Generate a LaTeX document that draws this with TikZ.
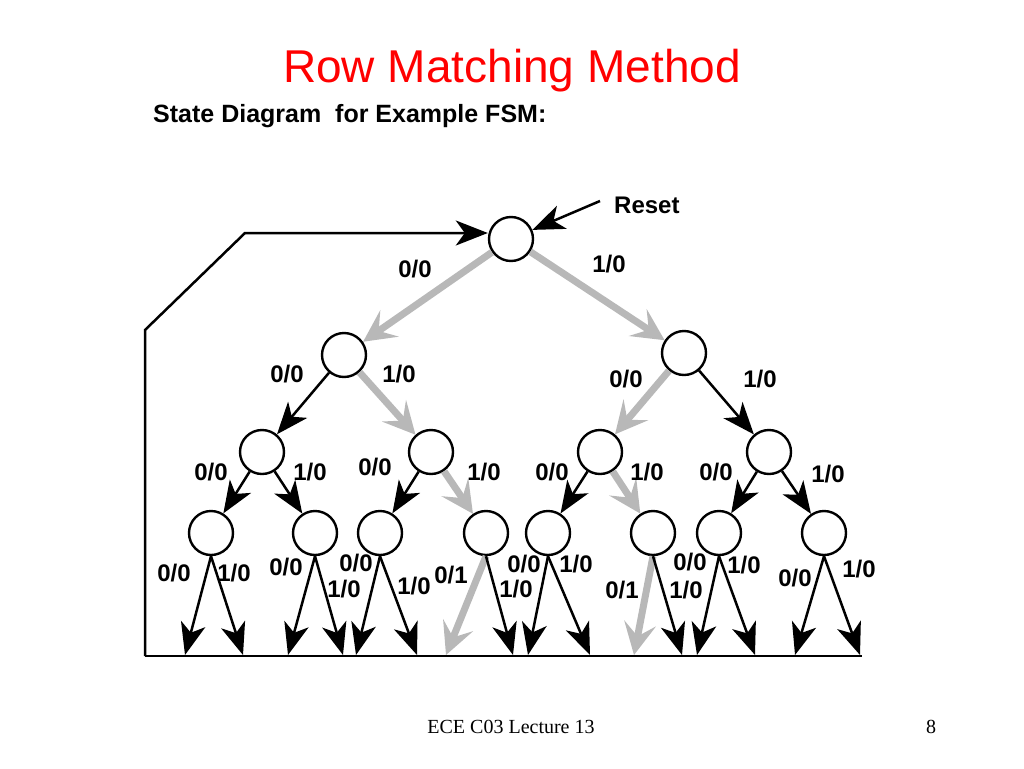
\documentclass[tikz,border=0pt]{standalone}
\usepackage{fontspec}
\setmainfont{Liberation Serif}
\newfontfamily\sansf{Liberation Sans}
\usetikzlibrary{arrows.meta}

\tikzset{
	state/.style={draw, circle, line width=2.4pt, minimum size=44pt, inner sep=0pt},
	arr/.style={line width=2.5pt, -{Stealth[length=32pt,width=25pt,inset=9pt]}},
	grayarr/.style={line width=7pt, draw=black!28, -{Stealth[length=32pt,width=32pt,inset=13pt]}},
	lbl/.style={font=\sansf\bfseries\fontsize{24}{24}\selectfont, inner sep=0pt},
}

\begin{document}
\begin{tikzpicture}[x=1pt,y=-1pt]
		\useasboundingbox (0,0) rectangle (1024,768);
		\node[anchor=base, text=red, font=\sansf\fontsize{46}{46}\selectfont] (title) at (512,82) {Row Matching Method};
		\node[anchor=base west, inner sep=0pt, font=\sansf\bfseries\fontsize{25}{25}\selectfont] (sub) at (153,122) {State Diagram\ \ for Example FSM:};
		\node[anchor=base, font=\fontsize{20}{20}\selectfont] (foot) at (511,733) {ECE C03 Lecture 13};
		\node[anchor=base, font=\fontsize{20}{20}\selectfont] (page) at (931,733) {8};

		\node[state] (s0) at (511,239) {};
		\node[state] (s1) at (344,355) {};
		\node[state] (s2) at (684,353) {};
		\node[state] (s3) at (262,452) {};
		\node[state] (s4) at (431,452) {};
		\node[state] (s5) at (600,452) {};
		\node[state] (s6) at (769,452) {};
		\node[state] (s7) at (211,533) {};
		\node[state] (s8) at (315,533) {};
		\node[state] (s9) at (380,533) {};
		\node[state] (s10) at (486,533) {};
		\node[state] (s11) at (548,533) {};
		\node[state] (s12) at (653,533) {};
		\node[state] (s13) at (719,533) {};
		\node[state] (s14) at (824,533) {};

		\coordinate (bl) at (145,656);
		\coordinate (br) at (862,656);
		\coordinate (c1) at (145,330);
		\coordinate (c2) at (245,233);
		\coordinate (rs) at (600,201);
		\coordinate (e1) at (185,655);
		\coordinate (e2) at (243,655);
		\coordinate (e3) at (288,655);
		\coordinate (e4) at (343,655);
		\coordinate (e5) at (356,655);
		\coordinate (e6) at (417,655);
		\coordinate (g1) at (446,655);
		\coordinate (e7) at (513,655);
		\coordinate (e8) at (528,655);
		\coordinate (e9) at (590,655);
		\coordinate (g2) at (634,655);
		\coordinate (e10) at (682,655);
		\coordinate (e11) at (697,655);
		\coordinate (e12) at (755,655);
		\coordinate (e13) at (795,655);
		\coordinate (e14) at (860,655);

		\draw[line width=2.5pt] (bl) -- (br);
		\draw[arr] (bl) -- (c1) -- (c2) -- (c2 -| s0.west);
		\node[lbl, anchor=west] (reset) at (614,205) {Reset};
		\draw[arr] (rs) -- (s0);

		\draw[grayarr] (s0) -- (s1);
		\draw[grayarr] (s0) -- (s2);
		\draw[grayarr] (s1) -- (s4);
		\draw[grayarr] (s2) -- (s5);
		\draw[grayarr] (s4) -- (s10);
		\draw[grayarr] (s5) -- (s12);
		\draw[grayarr] (s10.south) -- (g1);
		\draw[grayarr] (s12.south) -- (g2);

		\draw[arr] (s1) -- (s3);
		\draw[arr] (s2) -- (s6);
		\draw[arr] (s3) -- (s7);
		\draw[arr] (s3) -- (s8);
		\draw[arr] (s4) -- (s9);
		\draw[arr] (s5) -- (s11);
		\draw[arr] (s6) -- (s13);
		\draw[arr] (s6) -- (s14);

		\draw[arr] (s7.south) -- (e1);
		\draw[arr] (s7.south) -- (e2);
		\draw[arr] (s8.south) -- (e3);
		\draw[arr] (s8.south) -- (e4);
		\draw[arr] (s9.south) -- (e5);
		\draw[arr] (s9.south) -- (e6);
		\draw[arr] (s10.south) -- (e7);
		\draw[arr] (s11.south) -- (e8);
		\draw[arr] (s11.south) -- (e9);
		\draw[arr] (s12.south) -- (e10);
		\draw[arr] (s13.south) -- (e11);
		\draw[arr] (s13.south) -- (e12);
		\draw[arr] (s14.south) -- (e13);
		\draw[arr] (s14.south) -- (e14);

		\foreach \x/\y/\t [count=\i] in {415/269/{0/0}, 609/264/{1/0},
			287/374/{0/0}, 399/374/{1/0}, 626/379/{0/0}, 760/379/{1/0},
			211/472/{0/0}, 310/472/{1/0}, 375/467/{0/0}, 484/472/{1/0},
			552/472/{0/0}, 647/472/{1/0}, 716/472/{0/0}, 828/474/{1/0},
			174/573/{0/0}, 234/573/{1/0}, 286/567/{0/0}, 356/563/{0/0},
			344/589/{1/0}, 414/586/{1/0}, 451/575/{0/1}, 524/564/{0/0},
			576/564/{1/0}, 516/589/{1/0}, 622/590/{0/1}, 690/562/{0/0},
			744/565/{1/0}, 686/590/{1/0}, 795/578/{0/0}, 859/569/{1/0}}
			\node[lbl] (l\i) at (\x,\y) {\t};
	\end{tikzpicture}
\end{document}
